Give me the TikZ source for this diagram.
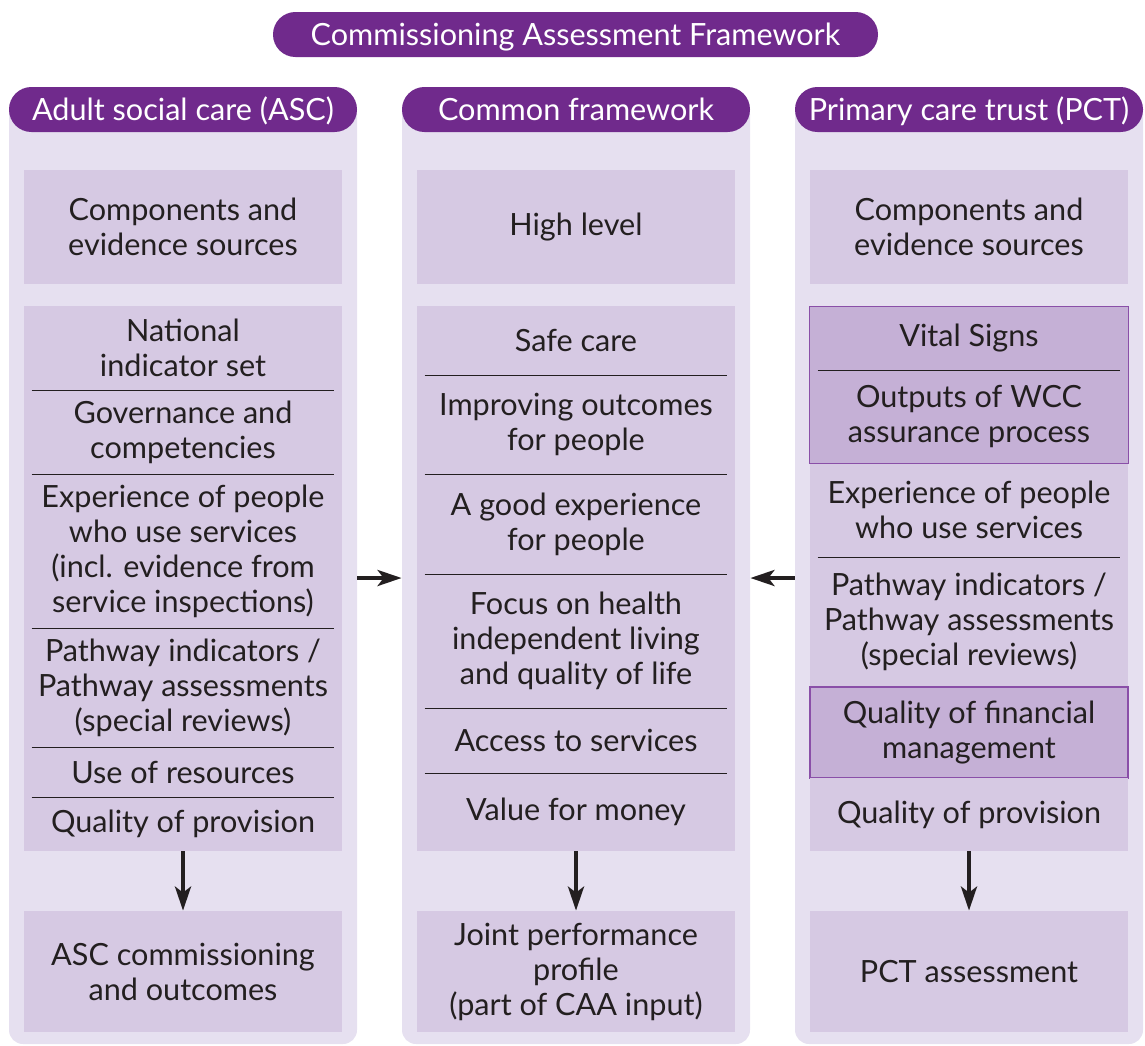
\documentclass[tikz,border=0pt]{standalone}
\usepackage{fontspec}
\setmainfont{Lato}
\usetikzlibrary{arrows.meta}

\definecolor{headpurple}{HTML}{702A8C}
\definecolor{panelfill}{HTML}{E6E0F0}
\definecolor{cellfill}{HTML}{D6C9E3}
\definecolor{hlfill}{HTML}{C5B0D6}
\definecolor{hlline}{HTML}{8A4FA8}
\definecolor{textgrey}{HTML}{231F20}

\begin{document}
\begin{tikzpicture}[x=0.5pt,y=-0.5pt]
\tikzstyle{every node}=[font=\fontsize{15.3}{17.5}\selectfont, text=textgrey]
\tikzstyle{panel}=[rectangle, rounded corners=7pt, fill=panelfill, minimum width=174pt, minimum height=472pt, inner sep=0pt]
\tikzstyle{pill}=[rectangle, rounded corners=11.2pt, fill=headpurple, text=white, minimum height=22.5pt, text height=12.5pt, text depth=1.5pt, inner sep=0pt]
\tikzstyle{cell}=[rectangle, fill=cellfill, minimum width=159pt, align=center, inner sep=0pt]
\tikzstyle{marked}=[cell, fill=hlfill]
\tikzstyle{sep}=[draw=textgrey, line width=0.5pt]
\tikzstyle{flow}=[draw=textgrey, line width=2pt, -{Stealth[length=12pt,width=8pt,inset=3pt]}]

\useasboundingbox (0,0) rectangle (1145,1045);

\node[pill, minimum width=302.5pt] (title) at (575.5,34.5) {Commissioning Assessment Framework};

% columns
\node[panel] (ascPanel) at (183,572) {};
\node[panel] (cfPanel) at (576,572) {};
\node[panel] (pctPanel) at (969,572) {};

\node[pill, minimum width=174pt] (ascHead) at (183,109.5) {Adult social care (ASC)};
\node[pill, minimum width=174pt] (cfHead) at (576,109.5) {Common framework};
\node[pill, minimum width=174pt] (pctHead) at (969,109.5) {Primary care trust (PCT)};

% adult social care
\node[cell, minimum height=57pt] (ascComp) at (183,227) {Components and\\evidence sources};
\node[cell, minimum height=42pt] (ascNis) at (183,348) {National\\indicator set};
\node[cell, minimum height=42pt] (ascGov) at (183,432) {Governance and\\competencies};
\node[cell, minimum height=77pt] (ascExp) at (183,551) {Experience of people\\who use services\\(incl. evidence from\\service inspections)};
\node[cell, minimum height=59.5pt] (ascPath) at (183,687.5) {Pathway indicators /\\Pathway assessments\\(special reviews)};
\node[cell, minimum height=25pt] (ascRes) at (183,772) {Use of resources};
\node[cell, minimum height=27pt] (ascProv) at (183,824) {Quality of provision};
\node[cell, minimum height=60.5pt] (ascOut) at (183,971.5) {ASC commissioning\\and outcomes};

% common framework
\node[cell, minimum height=57pt] (cfHigh) at (576,227) {High level};
\node[cell, minimum height=34.5pt] (cfSafe) at (576,340.5) {Safe care};
\node[cell, minimum height=49.5pt] (cfImp) at (576,424.5) {Improving outcomes\\for people};
\node[cell, minimum height=50pt] (cfExp) at (576,524) {A good experience\\for people};
\node[cell, minimum height=67pt] (cfFocus) at (576,641) {Focus on health\\independent living\\and quality of life};
\node[cell, minimum height=32.5pt] (cfAccess) at (576,740.5) {Access to services};
\node[cell, minimum height=39pt] (cfValue) at (576,812) {Value for money};
\node[cell, minimum height=60.5pt] (cfJoint) at (576,971.5) {Joint performance\\profile\\(part of CAA input)};

% primary care trust
\node[cell, minimum height=57pt] (pctComp) at (969,227) {Components and\\evidence sources};
\node[marked, minimum height=31.5pt] (pctVital) at (969,338.5) {Vital Signs};
\node[marked, minimum height=46.5pt] (pctWcc) at (969,416.5) {Outputs of WCC\\assurance process};
\node[cell, minimum height=47pt] (pctExp) at (969,510) {Experience of people\\who use services};
\node[cell, minimum height=65pt] (pctPath) at (969,622) {Pathway indicators /\\Pathway assessments\\(special reviews)};
\node[marked, draw=hlline, line width=0.6pt, minimum height=45.5pt] (pctFin) at (969,732.5) {Quality of financial\\management};
\node[cell, minimum height=36.5pt] (pctProv) at (969,814.5) {Quality of provision};
\node[cell, minimum height=60.5pt] (pctOut) at (969,971.5) {PCT assessment};

\draw[hlline, line width=0.6pt] (pctVital.north west) rectangle (pctWcc.south east);

\foreach \c in {ascNis,ascGov,ascExp,ascPath,ascRes,cfSafe,cfImp,cfExp,cfFocus,cfAccess,pctVital,pctExp}
  \draw[sep] ([xshift=4pt]\c.south west) -- ([xshift=-4pt]\c.south east);

\draw[flow] (ascProv.south) -- (ascOut.north);
\draw[flow] (cfValue.south) -- (cfJoint.north);
\draw[flow] (pctProv.south) -- (pctOut.north);

\draw[flow] ([yshift=-3pt]ascPanel.east) -- ([yshift=-3pt]cfPanel.west);
\draw[flow] ([yshift=-3pt]pctPanel.west) -- ([yshift=-3pt]cfPanel.east);

\end{tikzpicture}
\end{document}
